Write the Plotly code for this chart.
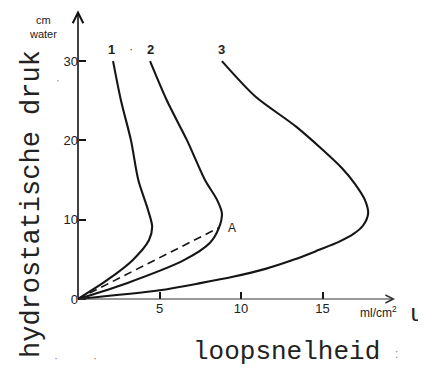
import plotly.graph_objects as go

# ---- data ----
curve1_x = [2.15, 2.64, 3.25, 3.7, 4.3, 4.55, 4.35, 3.35, 1.8, 0.0]
curve1_y = [30, 25, 20, 15, 11.2, 9.1, 7.4, 4.9, 2.4, 0]
curve2_x = [4.42, 5.46, 6.69, 7.79, 8.53, 8.83, 8.65, 8.1, 6.5, 3.0, 0.0]
curve2_y = [30, 25, 20, 15, 12.5, 10.8, 9.0, 7.1, 4.9, 2.0, 0]
curve3_x = [8.83, 10.9, 13.4, 16.2, 17.0, 17.6, 17.8, 17.5, 16.9, 16.0, 14.8,
            13.3, 11.5, 9.5, 7.5, 5.0, 0.0]
curve3_y = [30, 25.5, 21.7, 16.5, 14.5, 12.5, 10.8, 9.3, 8.2, 7.2, 6.2,
            5.0, 3.8, 2.8, 2.0, 1.1, 0]
chord_x = [0.0, 8.65]
chord_y = [0.0, 9.0]
point_A = (8.65, 9.0)
x_ticks = [5, 10, 15]
y_ticks = [0, 10, 20, 30]
curve_labels = ["1", "2", "3"]
x_axis_end = 19.45
y_axis_end = 36.4

# ---- layout geometry (page body has an 8px margin) ----
W, H = 426, 371
OFF = 8
X0_PX, Y0_PX = 78 - OFF, 299 - OFF
PX_PER_X, PX_PER_Y = 16.3, 7.93

INK = "#151515"
TXT = "#222222"

def px(x):
    return (x - OFF) / W

def py(y):
    return 1 - (y - OFF) / H

fig = go.Figure()
line_style = dict(color=INK, width=2.1, shape="spline", smoothing=0.8)
for xs, ys in [(curve1_x, curve1_y), (curve2_x, curve2_y), (curve3_x, curve3_y)]:
    fig.add_trace(go.Scatter(x=xs, y=ys, mode="lines", line=line_style,
                             hoverinfo="skip", showlegend=False))
fig.add_trace(go.Scatter(x=chord_x, y=chord_y, mode="lines",
                         line=dict(color=INK, width=1.6, dash="8px,5px"),
                         hoverinfo="skip", showlegend=False))

ann = []
# axes with arrows
ann.append(dict(x=0, y=y_axis_end, ax=0, ay=0, xref="x", yref="y", axref="x", ayref="y",
                showarrow=True, arrowhead=5, arrowsize=1.3, arrowwidth=1.6,
                arrowcolor=INK, text=""))
ann.append(dict(x=x_axis_end, y=0, ax=0, ay=0, xref="x", yref="y", axref="x", ayref="y",
                showarrow=True, arrowhead=5, arrowsize=1.3, arrowwidth=1.2,
                arrowcolor="#333", text=""))

sans = "Liberation Sans"
mono = "Liberation Mono"

def label(x, y, text, size, family=sans, color=TXT, **kw):
    d = dict(x=px(x), y=py(y), xref="paper", yref="paper", text=text,
             xanchor="center", yanchor="middle", showarrow=False,
             font=dict(family=family, size=size, color=color))
    d.update(kw)
    ann.append(d)

# curve labels
for lab, (lx, ly) in zip(curve_labels, [(111, 50), (150, 50), (221, 49)]):
    label(lx, ly, "<b>" + lab + "</b>", 13)
label(131, 48, "·", 13, color="#555")
ann.append(dict(x=point_A[0], y=point_A[1], xref="x", yref="y", text="A", xshift=13,
                xanchor="center", yanchor="middle",
                showarrow=False, font=dict(family=sans, size=12, color=TXT)))
# units
label(43, 27, "cm<br>water", 11)
label(378, 312, "ml/cm<sup>2</sup>", 12)
label(417, 314, "u", 24, family=mono)
# axis titles
label(32, 204, "hydrostatische druk", 27, family=mono, textangle=-90)
label(286, 352, "loopsnelheid", 26, family=mono)
# specks
for sx, sy, st in [(58, 80, "·"), (56, 358, "·"), (95, 358, "·"), (396, 354, ":")]:
    label(sx, sy, st, 12, color="#888")

fig.update_layout(
    width=W, height=H, margin=dict(l=0, r=0, t=0, b=0),
    paper_bgcolor="white", plot_bgcolor="white",
    annotations=ann,
    xaxis=dict(range=[-X0_PX / PX_PER_X, (W - X0_PX) / PX_PER_X],
               showgrid=False, zeroline=False, showline=False,
               ticks="inside", ticklen=7, tickwidth=1.5, tickcolor=INK,
               tickvals=x_ticks, ticktext=[str(v) for v in x_ticks],
               anchor="free", position=(H - Y0_PX) / H,
               tickfont=dict(family=sans, size=13, color=TXT), fixedrange=True),
    yaxis=dict(range=[-(H - Y0_PX) / PX_PER_Y, Y0_PX / PX_PER_Y],
               showgrid=False, zeroline=False, showline=False,
               ticks="inside", ticklen=7, tickwidth=1.5, tickcolor=INK,
               tickvals=y_ticks, ticktext=[str(v) for v in y_ticks],
               anchor="free", position=X0_PX / W,
               tickfont=dict(family=sans, size=13, color=TXT), fixedrange=True),
)

fig.write_html("out.html")
